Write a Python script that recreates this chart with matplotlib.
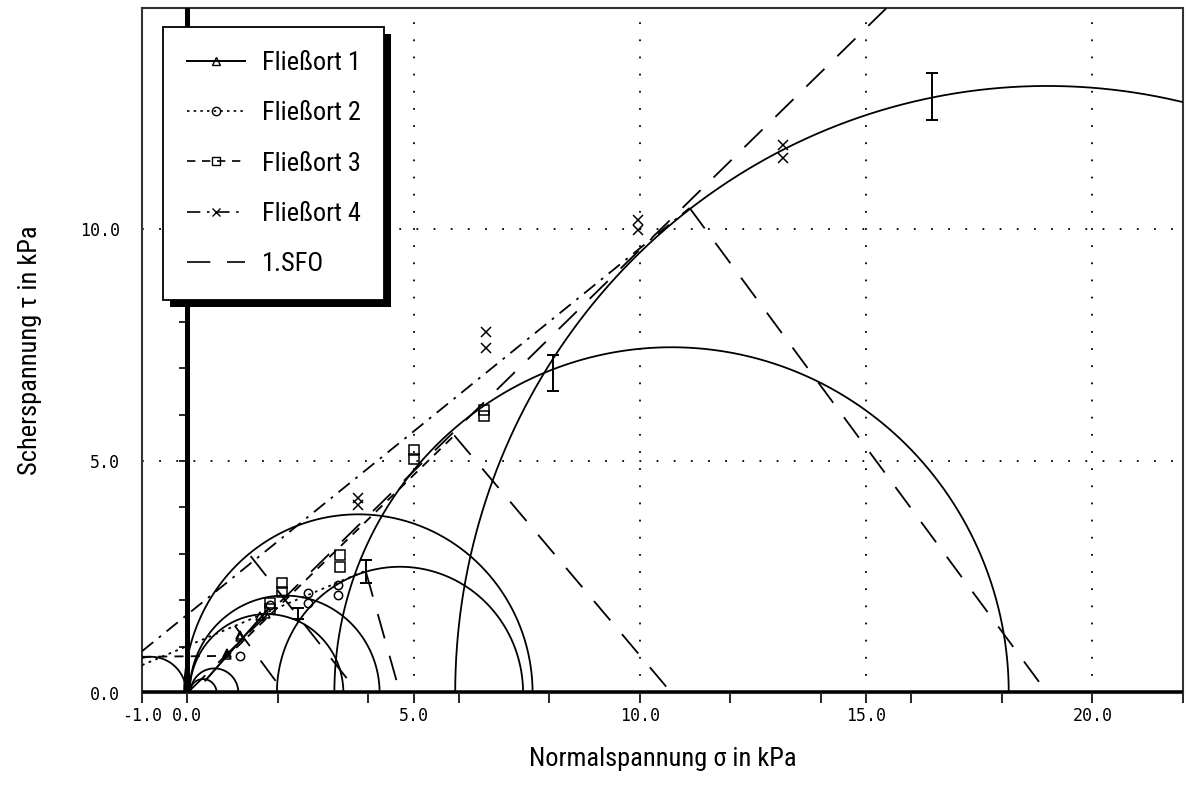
import numpy as np
import matplotlib
matplotlib.use("Agg")
import matplotlib.pyplot as plt
from matplotlib import font_manager
from matplotlib.lines import Line2D

# pick a narrow font if one is installed
names = {f.name for f in font_manager.fontManager.ttflist}
narrow = "DejaVu Sans"
for cand in ["Liberation Sans Narrow", "DejaVu Sans Condensed", "Roboto Condensed", "Open Sans Condensed"]:
    if cand in names:
        narrow = cand
        break

# Mohr circles (centre, radius) in kPa
circ_center = [19.0, 10.7, 4.7, 3.78, 2.15, 1.75, 0.6, 0.35, -0.8]
circ_radius = [13.08, 7.45, 2.72, 3.85, 2.1, 1.7, 0.53, 0.3, 0.78]

# yield loci (Fliessorte)
fo1_sig = [0.4, 1.8]
fo1_tau = [0.27, 1.82]
fo2_sig = [-1.0, 3.9]
fo2_tau = [0.6, 2.62]
fo3_sig = [-1.0, 0.9, 5.9]
fo3_tau = [0.78, 0.8, 5.55]
fo4_sig = [-1.0, 11.1]
fo4_tau = [0.9, 10.45]
sfo_sig = [0.0, 15.45]
sfo_tau = [0.0, 14.76]

# radius lines: tangent point -> circle centre
rad_sig0 = [11.1, 5.9, 3.95, 1.4, 1.05]
rad_tau0 = [10.45, 5.55, 2.6, 2.95, 1.45]
rad_sig1 = [19.0, 10.7, 4.7, 3.78, 2.15]

# measured shear points
p1_sig = [0.88, 0.88, 1.17, 1.17, 1.6, 1.75]
p1_tau = [0.82, 0.86, 1.2, 1.25, 1.65, 1.7]
p2_sig = [1.17, 1.83, 2.67, 2.67, 3.33, 3.33]
p2_tau = [0.8, 1.9, 2.15, 1.94, 2.33, 2.11]
p3_sig = [1.83, 1.83, 2.1, 2.1, 3.38, 3.38, 5.0, 5.0, 6.56, 6.56]
p3_tau = [1.82, 1.95, 2.18, 2.37, 2.72, 2.97, 5.04, 5.24, 5.97, 6.1]
p4_sig = [3.78, 3.78, 6.6, 6.6, 9.96, 9.96, 13.16, 13.16]
p4_tau = [4.05, 4.2, 7.44, 7.78, 9.98, 10.19, 11.53, 11.81]

# pre-shear points with spread
pre_sig = [2.45, 3.95, 8.08, 16.45]
pre_tau = [1.72, 2.62, 6.9, 12.85]
pre_err = [0.12, 0.25, 0.39, 0.5]

fig = plt.figure(figsize=(11.86, 7.85), dpi=100)
ax = fig.add_axes([142 / 1186, 1 - 693 / 785, 1041 / 1186, 685 / 785])
ax.set_xlim(-1, 22)
ax.set_ylim(0, 14.76)

# dotted grid
for g in [5, 10, 15, 20]:
    ax.axvline(g, color="k", lw=1.3, ls=(0, (1, 8.5)), zorder=1)
for g in [5, 10]:
    ax.axhline(g, color="k", lw=1.3, ls=(0, (1, 8.5)), zorder=1)

# thick axes through the origin
ax.axvline(0, color="k", lw=3.6, zorder=4)
ax.axhline(0, color="k", lw=4.0, zorder=4)
yt = np.arange(1, 15)
ax.hlines(yt, -0.18, 0, color="k", lw=1.2, zorder=4)

th = np.linspace(0, np.pi, 500)
for c, r in zip(circ_center, circ_radius):
    ax.plot(c + r * np.cos(th), r * np.sin(th), color="k", lw=1.3, zorder=3)

ax.plot(fo1_sig, fo1_tau, color="k", lw=1.5, ls="-", zorder=3)
ax.plot(fo2_sig, fo2_tau, color="k", lw=1.3, ls=(0, (1.5, 2.5)), zorder=3)
ax.plot(fo3_sig, fo3_tau, color="k", lw=1.3, ls=(0, (5, 4)), zorder=3)
ax.plot(fo4_sig, fo4_tau, color="k", lw=1.3, ls=(0, (8, 4, 1.5, 4)), zorder=3)
ax.plot(sfo_sig, sfo_tau, color="k", lw=1.3, ls=(0, (14, 10)), zorder=3)
for s0, t0, s1 in zip(rad_sig0, rad_tau0, rad_sig1):
    ax.plot([s0, s1], [t0, 0], color="k", lw=1.3, ls=(0, (14, 10)), zorder=3)

mk = dict(color="k", ls="none", mfc="none", mec="k", mew=1.1, zorder=5)
ax.plot(p1_sig, p1_tau, marker="^", ms=6, **mk)
ax.plot(p2_sig, p2_tau, marker="o", ms=6, **mk)
ax.plot(p3_sig, p3_tau, marker="s", ms=7, **mk)
ax.plot(p4_sig, p4_tau, marker="x", ms=7, **mk)

ax.errorbar(pre_sig, pre_tau, yerr=pre_err, fmt="none", ecolor="k",
            elinewidth=1.4, capsize=4, capthick=1.4, zorder=5)

# ticks and labels
ax.set_xticks([-1, 0, 5, 10, 15, 20])
ax.set_xticklabels(["-1.0", "0.0", "5.0", "10.0", "15.0", "20.0"])
ax.set_xticks([2, 4, 6, 8, 12, 14, 16, 18, 22], minor=True)
ax.tick_params(axis="x", which="both", direction="out", length=7, width=1.2, pad=3)
ax.set_yticks([0, 5, 10])
ax.set_yticklabels(["0.0", "5.0", "10.0"])
ax.tick_params(axis="y", length=0, pad=16)
for lab in ax.get_xticklabels() + ax.get_yticklabels():
    lab.set_family("DejaVu Sans Mono")
    lab.set_fontsize(12)
for sp in ax.spines.values():
    sp.set_linewidth(1.5)
    sp.set_color("#333333")

ax.set_xlabel("Normalspannung σ in kPa", family=narrow, fontsize=19, labelpad=16)
ax.set_ylabel("Scherspannung τ in kPa", family=narrow, fontsize=19, labelpad=27)

handles = [
    Line2D([], [], color="k", lw=1.4, marker="^", ms=6, mfc="none"),
    Line2D([], [], color="k", lw=1.2, ls=(0, (1.5, 2.5)), marker="o", ms=6, mfc="none"),
    Line2D([], [], color="k", lw=1.2, ls=(0, (5, 4)), marker="s", ms=6, mfc="none"),
    Line2D([], [], color="k", lw=1.2, ls=(0, (8, 4, 1.5, 4)), marker="x", ms=6),
    Line2D([], [], color="k", lw=1.2, ls=(0, (14, 10))),
]
labels = ["Fließort 1", "Fließort 2", "Fließort 3", "Fließort 4", "1.SFO"]
leg = ax.legend(handles, labels, loc="upper left", bbox_to_anchor=(0.02, 0.972),
                frameon=True, fancybox=False, edgecolor="k", framealpha=1,
                prop={"family": narrow, "size": 19}, handlelength=2.2,
                handletextpad=0.65, labelspacing=1.0, borderpad=0.9, borderaxespad=0)
leg.get_frame().set_linewidth(1.3)
leg.set_zorder(11)

# solid black drop shadow behind the legend box
fig.canvas.draw()
bb = leg.get_window_extent()
shadow = plt.Rectangle((bb.x0 + 7, bb.y0 - 7), bb.width, bb.height, transform=None,
                       facecolor="k", edgecolor="none", zorder=10, clip_on=False)
ax.add_artist(shadow)

fig.savefig("out.png", dpi=100)
